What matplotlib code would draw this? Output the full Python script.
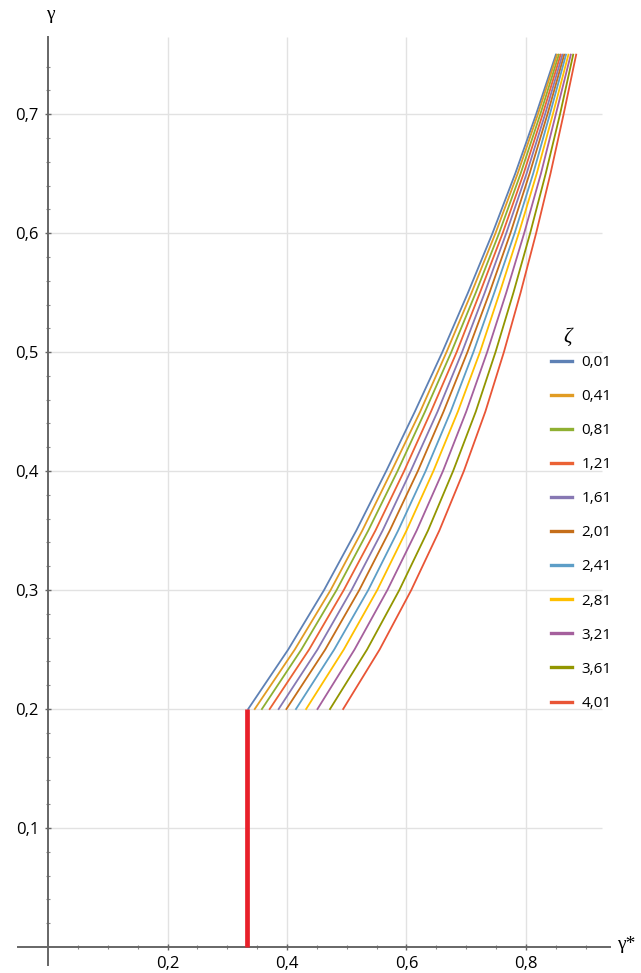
import matplotlib
matplotlib.use('Agg')
from matplotlib import pyplot as plt

# Parameter values (legend) and curve levels along gamma
zetas = ['0,01', '0,41', '0,81', '1,21', '1,61', '2,01', '2,41', '2,81', '3,21', '3,61', '4,01']
gamma_levels = [0.2, 0.25, 0.3, 0.35, 0.4, 0.45, 0.5, 0.55, 0.6, 0.65, 0.7, 0.75]

# gamma* at each gamma level (curve order = zetas)
gs_020 = [0.335, 0.346, 0.358, 0.371, 0.386, 0.399, 0.415, 0.432, 0.451, 0.472, 0.494]
gs_025 = [0.402, 0.413, 0.424, 0.437, 0.451, 0.464, 0.479, 0.495, 0.513, 0.534, 0.555]
gs_030 = [0.462, 0.473, 0.483, 0.495, 0.508, 0.521, 0.536, 0.551, 0.568, 0.588, 0.608]
gs_035 = [0.516, 0.526, 0.536, 0.548, 0.560, 0.572, 0.586, 0.600, 0.617, 0.636, 0.655]
gs_040 = [0.566, 0.575, 0.585, 0.596, 0.607, 0.619, 0.632, 0.645, 0.661, 0.678, 0.696]
gs_045 = [0.614, 0.623, 0.631, 0.641, 0.652, 0.662, 0.674, 0.686, 0.700, 0.716, 0.732]
gs_050 = [0.660, 0.667, 0.675, 0.684, 0.693, 0.702, 0.712, 0.723, 0.735, 0.749, 0.763]
gs_055 = [0.703, 0.709, 0.716, 0.723, 0.731, 0.739, 0.747, 0.756, 0.767, 0.779, 0.791]
gs_060 = [0.744, 0.749, 0.755, 0.761, 0.767, 0.774, 0.781, 0.788, 0.797, 0.807, 0.817]
gs_065 = [0.782, 0.786, 0.791, 0.796, 0.801, 0.806, 0.812, 0.818, 0.825, 0.833, 0.841]
gs_070 = [0.817, 0.820, 0.824, 0.828, 0.832, 0.836, 0.840, 0.845, 0.850, 0.857, 0.863]
gs_075 = [0.850, 0.852, 0.855, 0.858, 0.861, 0.864, 0.867, 0.871, 0.875, 0.879, 0.884]
gamma_star = [gs_020, gs_025, gs_030, gs_035, gs_040, gs_045,
              gs_050, gs_055, gs_060, gs_065, gs_070, gs_075]

# red limit line
limit_x = 1 / 3
limit_top = 0.2

colors = ['#5E81B5', '#E19C24', '#8FB032', '#EB6235', '#8778B3', '#C56E1A',
          '#5D9EC7', '#FFBF00', '#A5609D', '#929600', '#E95536']

plt.rcParams['font.family'] = ['Open Sans', 'DejaVu Sans']

fig = plt.figure(figsize=(6.41, 9.73), dpi=100)
ax = fig.add_axes([0.00967, 0.00226, 0.988, 0.9905])
ax.set_xlim(-0.07, 0.99)
ax.set_ylim(-0.02, 0.79)

# Grid
xgrid = [0.2, 0.4, 0.6, 0.8]
ygrid = [0.1, 0.2, 0.3, 0.4, 0.5, 0.6, 0.7]
ax.vlines(xgrid, 0, 0.765, color='#e2e2e2', lw=1, zorder=0)
ax.hlines(ygrid, 0, 0.927, color='#e2e2e2', lw=1, zorder=0)

# Curves
for i, z in enumerate(zetas):
    xs = [row[i] for row in gamma_star]
    ax.plot(xs, gamma_levels, color=colors[i], lw=1.3, label=z, zorder=3)

ax.plot([limit_x, limit_x], [0, limit_top], color='#E8202A', lw=3.4, zorder=4,
        solid_capstyle='butt')

# Axes through origin
for s in ['top', 'right']:
    ax.spines[s].set_visible(False)
ax.spines['left'].set_position(('data', 0))
ax.spines['bottom'].set_position(('data', 0))
ax.spines['left'].set_bounds(-0.015, 0.765)
ax.spines['bottom'].set_bounds(-0.05, 0.94)
for s in ['left', 'bottom']:
    ax.spines[s].set_color('#666666')
    ax.spines[s].set_linewidth(1.4)

ax.set_xticks(xgrid)
ax.set_xticklabels(['0,2', '0,4', '0,6', '0,8'])
ax.set_xticks([0.05 * k for k in range(1, 19)], minor=True)
ax.set_yticks(ygrid)
ax.set_yticklabels(['0,1', '0,2', '0,3', '0,4', '0,5', '0,6', '0,7'])
ax.set_yticks([0.02 * k for k in range(1, 38)], minor=True)
ax.tick_params(which='major', direction='inout', length=5, width=1, color='#666666',
               labelsize=12, pad=4)
ax.tick_params(which='minor', direction='inout', length=3, width=0.8, color='#888888')

ax.text(0.004, 0.784, 'γ', fontsize=14, ha='center', va='center', family='Liberation Serif')
ax.text(0.968, 0.002, 'γ*', fontsize=14, ha='center', va='center', family='Liberation Serif')
ax.text(0.870, 0.512, 'ζ', fontsize=15, ha='center', va='center', family='Liberation Serif',
        style='italic')

leg = ax.legend(loc='upper left', bbox_to_anchor=(0.8477, 0.647),
                frameon=False, fontsize=11, labelspacing=1.25, handlelength=1.4,
                handletextpad=0.6, borderpad=0)
for line in leg.get_lines():
    line.set_linewidth(2.4)

fig.savefig('out.png', dpi=100)
